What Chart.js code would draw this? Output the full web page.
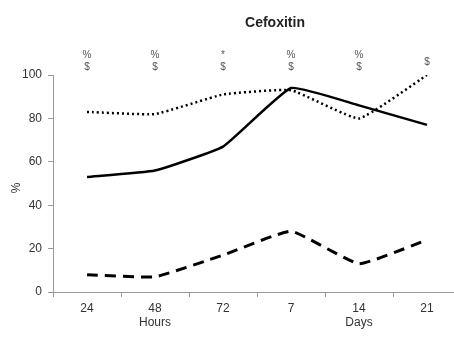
<!DOCTYPE html>
<html>
<head>
<meta charset="utf-8">
<script src="https://cdn.jsdelivr.net/npm/chart.js@4"></script>
<style>
  html, body { margin: 0; padding: 0; background: #fff; overflow: hidden; }
  #wrap { width: 461px; height: 337px; }
</style>
</head>
<body>
<div id="wrap"><canvas id="chart" width="461" height="337"></canvas></div>
<script>
// time points (hours, then days)
const timeLabels = [["24", ""], ["48", "Hours"], ["72", ""], ["7", ""], ["14", "Days"], ["21", ""]];
const solidValues = [53, 56, 67, 94, 86, 77];
const dottedValues = [83, 82, 91, 93, 80, 100];
const dashedValues = [8, 7, 17, 28, 13, 24];
// significance marks above each time point
const topMarks = ["%", "%", "*", "%", "%", ""];
const bottomMarks = ["$", "$", "$", "$", "$", "$"];

const font = "'Liberation Sans', Arial, sans-serif";

// draws the title and the significance marks
const overlay = {
  id: "overlay",
  afterDraw(chart) {
    const ctx = chart.ctx;
    const x = chart.scales.x;
    ctx.save();
    ctx.fillStyle = "#222";
    ctx.font = "bold 14px " + font;
    ctx.textAlign = "center";
    ctx.textBaseline = "middle";
    ctx.fillText("Cefoxitin", 275, 23);
    ctx.font = "10px " + font;
    ctx.fillStyle = "#555";
    topMarks.forEach((m, i) => {
      const px = x.getPixelForValue(i);
      if (m) ctx.fillText(m, px, 55);
      ctx.fillText(bottomMarks[i], px, m ? 67 : 62);
    });
    // y axis title
    ctx.translate(17, 188);
    ctx.rotate(-Math.PI / 2);
    ctx.font = "12px " + font;
    ctx.fillStyle = "#333";
    ctx.fillText("%", 0, 0);
    ctx.restore();
  }
};

const line = (data, dash, width) => ({
  data: data,
  borderColor: "#000",
  borderWidth: width,
  borderDash: dash,
  pointRadius: 0,
  fill: false,
  tension: 0.12
});

new Chart(document.getElementById("chart").getContext("2d"), {
  type: "line",
  data: {
    labels: timeLabels,
    datasets: [
      line(solidValues, [], 2.5),
      line(dottedValues, [2, 3], 2.5),
      line(dashedValues, [11, 7], 3)
    ]
  },
  options: {
    responsive: false,
    animation: false,
    layout: { padding: { top: 75, left: 0, right: 0, bottom: 0 } },
    plugins: { legend: { display: false }, tooltip: { enabled: false } },
    scales: {
      x: {
        offset: true,
        grid: { offset: true, drawOnChartArea: false, tickLength: 5, color: "#999" },
        border: { color: "#999", width: 1 },
        ticks: { color: "#333", font: { family: font, size: 12 }, padding: 4, maxRotation: 0 },
        afterFit(s) { s.height = 45; }
      },
      y: {
        min: 0,
        max: 100,
        grid: { drawOnChartArea: false, tickLength: 5, color: "#999" },
        border: { color: "#999", width: 1 },
        ticks: { stepSize: 20, color: "#333", font: { family: font, size: 12 }, padding: 6 },
        afterFit(s) { s.width = 53; }
      }
    }
  },
  plugins: [overlay]
});
</script>
</body>
</html>
